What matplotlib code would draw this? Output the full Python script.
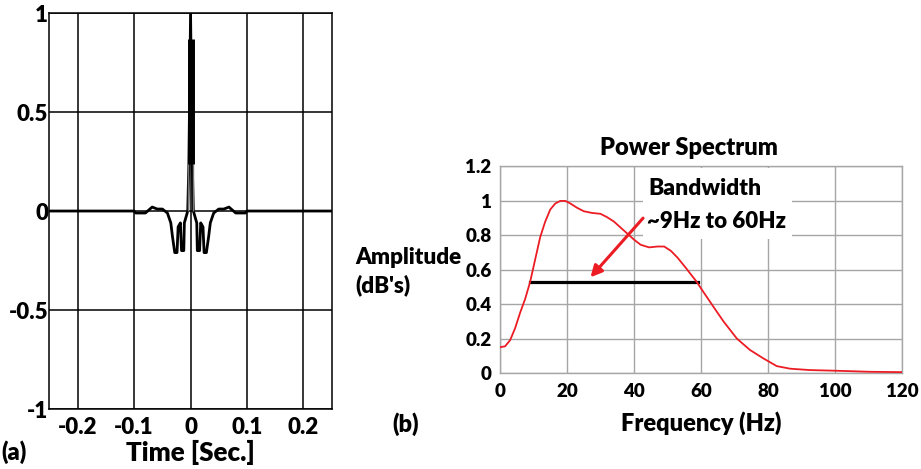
import numpy as np
import matplotlib
matplotlib.use("Agg")
import matplotlib.pyplot as plt
from matplotlib.patches import Rectangle

plt.rcParams['font.family'] = ['Lato', 'DejaVu Sans']
plt.rcParams['font.weight'] = 'heavy'
plt.rcParams['axes.unicode_minus'] = False

# (a) wavelet in time
time_s = [-0.25, -0.1, -0.097, -0.08, -0.068, -0.059, -0.05, -0.041, -0.035, -0.032,
          -0.028, -0.024, -0.022, -0.018, -0.016, -0.012, -0.011, -0.008, -0.005,
          -0.003, 0.0, 0.003, 0.005, 0.008, 0.011, 0.012, 0.016, 0.018, 0.022, 0.024,
          0.028, 0.032, 0.035, 0.041, 0.05, 0.059, 0.068, 0.08, 0.097, 0.1, 0.25]
wavelet = [0, 0, -0.01, -0.01, 0.02, 0.01, 0.01, -0.01, -0.06, -0.13,
           -0.21, -0.21, -0.08, -0.06, -0.2, -0.2, -0.06, -0.03, 0.0,
           0.24, 1.0, 0.24, 0.0, -0.03, -0.06, -0.2, -0.2, -0.06, -0.08, -0.21,
           -0.21, -0.13, -0.06, -0.01, 0.01, 0.01, 0.02, -0.01, -0.01, 0, 0]
spike_core = (0.24, 0.87)   # thick part of the central peak
spike_edge = 0.004          # grey edges of the peak base

t_ticks = [-0.2, -0.1, 0, 0.1, 0.2]
t_labels = ["-0.2", "-0.1", "0", "0.1", "0.2"]
a_ticks = [-1, -0.5, 0, 0.5, 1]
a_labels = ["-1", "-0.5", "0", "0.5", "1"]

# (b) power spectrum
freq = [0, 1.5, 3, 4.5, 6, 7.5, 9, 10.5, 12, 13.5, 15, 16.5, 18, 19.5, 21, 23, 25,
        27.5, 30, 32, 34, 36, 38, 40, 42, 44.5, 47, 49, 51, 53, 55.5, 58.7, 60.4,
        63.7, 66.7, 70.7, 74.6, 78.6, 82.6, 86.6, 92.5, 100.5, 110.4, 120]
power = [0.15, 0.155, 0.19, 0.26, 0.35, 0.43, 0.53, 0.66, 0.79, 0.88, 0.95, 0.985,
         1.0, 1.0, 0.985, 0.96, 0.94, 0.93, 0.925, 0.905, 0.88, 0.845, 0.81, 0.775,
         0.745, 0.73, 0.735, 0.735, 0.71, 0.67, 0.61, 0.53, 0.48, 0.385, 0.30, 0.20,
         0.134, 0.085, 0.04, 0.025, 0.017, 0.013, 0.007, 0.005]
bw_lo, bw_hi, bw_level = 9, 59, 0.53
f_ticks = [0, 20, 40, 60, 80, 100, 120]
p_ticks = [0, 0.2, 0.4, 0.6, 0.8, 1.0, 1.2]
p_labels = ["0", "0.2", "0.4", "0.6", "0.8", "1", "1.2"]

red = '#ec1c24'
grey = '#a6a6a6'
W = 'heavy'

fig = plt.figure(figsize=(9.21, 4.69), dpi=100)

# ---- left panel
ax1 = fig.add_axes([0.0537, 0.1279, 0.3064, 0.8443])
ax1.set_axisbelow(True)
ax1.plot(time_s, wavelet, color='black', lw=2.0, zorder=3)
ax1.vlines(0, spike_core[0], spike_core[1], color='black', lw=5, zorder=3)
ax1.vlines([-spike_edge, spike_edge], 0, spike_core[0], color='#777777', lw=1.0, zorder=3)
ax1.set_xlim(-0.25, 0.25)
ax1.set_ylim(-1, 1)
ax1.set_xticks(t_ticks)
ax1.set_xticklabels(t_labels, fontweight=W)
ax1.set_yticks(a_ticks)
ax1.set_yticklabels(a_labels, fontweight=W)
ax1.grid(True, color='black', lw=1.1)
ax1.tick_params(length=0, labelsize=16)
ax1.tick_params(axis='x', pad=6)
ax1.tick_params(axis='y', pad=1)
for s in ax1.spines.values():
    s.set_color('black')
    s.set_linewidth(1.1)
ax1.set_xlabel("Time [Sec.]", fontsize=18.7, fontweight=W, labelpad=1)
fig.text(0.002, 0.036, "(a)", fontsize=17, fontweight=W, ha='left', va='center')

# ---- right panel
ax2 = fig.add_axes([0.5429, 0.2047, 0.4365, 0.4403])
ax2.set_axisbelow(True)
ax2.grid(True, color=grey, lw=1.0)
ax2.add_patch(Rectangle((42.7, 0.78), 44.5, 0.41, facecolor='white', edgecolor='none', zorder=1))
ax2.plot(freq, power, color=red, lw=1.3, zorder=3)
ax2.plot([bw_lo, bw_hi], [bw_level, bw_level], color='black', lw=2.3, zorder=2.8)
ax2.annotate('', xy=(27, 0.556), xytext=(42.7, 0.9),
             arrowprops=dict(arrowstyle='-|>', color=red, lw=2.2, mutation_scale=17,
                             shrinkA=0, shrinkB=0), zorder=4)
ax2.text(44.2, 1.075, "Bandwidth", fontsize=16.5, fontweight=W, ha='left', va='center', zorder=4)
ax2.text(43.8, 0.88, "~9Hz to 60Hz", fontsize=16, fontweight=W, ha='left', va='center', zorder=4)
ax2.set_xlim(0, 120)
ax2.set_ylim(0, 1.2)
ax2.set_xticks(f_ticks)
ax2.set_xticklabels([str(f) for f in f_ticks], fontweight=W)
ax2.set_yticks(p_ticks)
ax2.set_yticklabels(p_labels, fontweight=W)
ax2.tick_params(length=0, labelsize=13.5)
ax2.tick_params(axis='x', pad=7)
ax2.tick_params(axis='y', pad=6)
for s in ax2.spines.values():
    s.set_color(grey)
    s.set_linewidth(1.0)
ax2.set_title("Power Spectrum", fontsize=17, fontweight=W, x=0.47, pad=8)
ax2.set_xlabel("Frequency (Hz)", fontsize=17, fontweight=W, labelpad=8)
fig.text(0.386, 0.421, "Amplitude\n(dB's)", fontsize=16.2, fontweight=W,
         ha='left', va='center', linespacing=1.35)
fig.text(0.4256, 0.096, "(b)", fontsize=17, fontweight=W, ha='left', va='center')

fig.savefig("out.png", dpi=100)
